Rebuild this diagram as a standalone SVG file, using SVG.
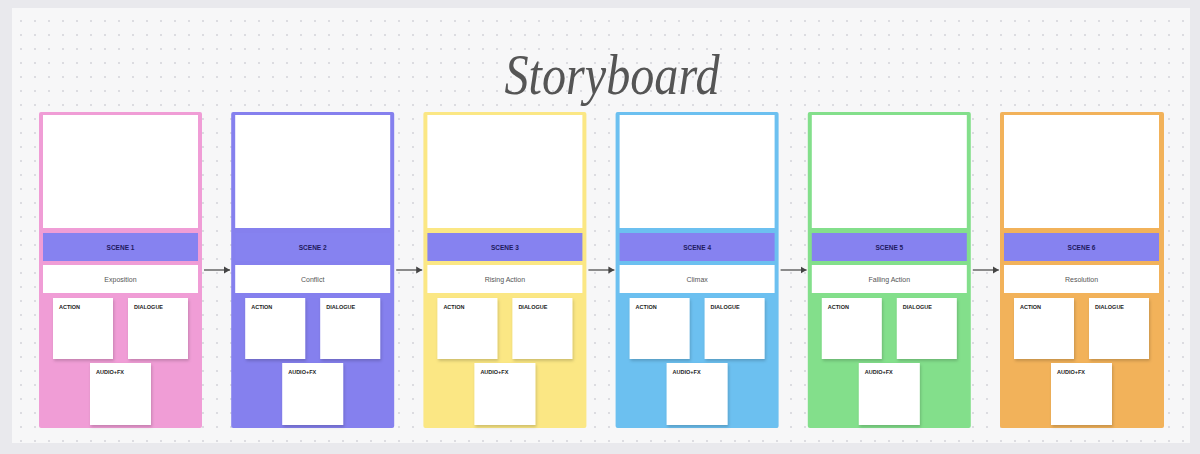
<svg xmlns="http://www.w3.org/2000/svg" width="1200" height="454" viewBox="0 0 1200 454">
<style>
.img{fill:#ffffff}
.bar{fill:#8682f0}
.desc{fill:#ffffff}
.note{fill:#ffffff;filter:url(#sh)}
.st{font-family:"Liberation Sans",Arial,sans-serif;font-size:6.5px;font-weight:bold;fill:#1e1a5e;text-anchor:middle}
.ds{font-family:"Liberation Sans",Arial,sans-serif;font-size:7px;fill:#555;text-anchor:middle}
.nl{font-family:"Liberation Sans",Arial,sans-serif;font-size:5.5px;font-weight:bold;fill:#222}
.conn{stroke:#444;stroke-width:1.2;fill:none;marker-end:url(#ah)}
</style>
<defs>
<pattern id="dots" x="0" y="0" width="14" height="14" patternUnits="userSpaceOnUse">
<circle cx="7" cy="7" r="0.9" fill="#d0d0d5"/>
</pattern>
<filter id="sh" x="-20%" y="-20%" width="150%" height="150%">
<feDropShadow dx="1" dy="2" stdDeviation="1.5" flood-color="#000" flood-opacity="0.18"/>
</filter>
<marker id="ah" markerWidth="8" markerHeight="8" refX="6" refY="4" orient="auto" markerUnits="userSpaceOnUse">
<path d="M0,0.5 L6,4 L0,7.5 Z" fill="#444"/>
</marker>
</defs>
<rect width="1200" height="454" fill="#e9e9ed"/>
<rect x="12" y="8" width="1178" height="435" fill="#f7f7f8"/>
<rect x="12" y="8" width="1178" height="435" fill="url(#dots)"/>
<text x="612" y="94" font-family="'Liberation Serif',serif" font-style="italic" font-size="56" fill="#555" text-anchor="middle" textLength="215" lengthAdjust="spacingAndGlyphs">Storyboard</text>

<g id="scene1" transform="translate(39,0)">
<rect x="0" y="112" width="163" height="316" rx="2" fill="#f09dd6"/>
<rect class="img" x="4" y="115" width="155" height="113"/>
<rect class="bar" x="4" y="233" width="155" height="28"/>
<text class="st" x="81.5" y="249.5">SCENE 1</text>
<rect class="desc" x="4" y="265" width="155" height="28"/>
<text class="ds" x="81.5" y="281.5">Exposition</text>
<rect class="note" x="14" y="298" width="60" height="61"/>
<text class="nl" x="20" y="309">ACTION</text>
<rect class="note" x="89" y="298" width="60" height="61"/>
<text class="nl" x="95" y="309">DIALOGUE</text>
<rect class="note" x="51" y="363" width="61" height="62"/>
<text class="nl" x="57" y="374">AUDIO+FX</text>
</g>

<g id="scene2" transform="translate(231.2,0)">
<rect x="0" y="112" width="163" height="316" rx="2" fill="#8580ee"/>
<rect class="img" x="4" y="115" width="155" height="113"/>
<rect class="bar" x="4" y="233" width="155" height="28"/>
<text class="st" x="81.5" y="249.5">SCENE 2</text>
<rect class="desc" x="4" y="265" width="155" height="28"/>
<text class="ds" x="81.5" y="281.5">Conflict</text>
<rect class="note" x="14" y="298" width="60" height="61"/>
<text class="nl" x="20" y="309">ACTION</text>
<rect class="note" x="89" y="298" width="60" height="61"/>
<text class="nl" x="95" y="309">DIALOGUE</text>
<rect class="note" x="51" y="363" width="61" height="62"/>
<text class="nl" x="57" y="374">AUDIO+FX</text>
</g>

<g id="scene3" transform="translate(423.4,0)">
<rect x="0" y="112" width="163" height="316" rx="2" fill="#fbe784"/>
<rect class="img" x="4" y="115" width="155" height="113"/>
<rect class="bar" x="4" y="233" width="155" height="28"/>
<text class="st" x="81.5" y="249.5">SCENE 3</text>
<rect class="desc" x="4" y="265" width="155" height="28"/>
<text class="ds" x="81.5" y="281.5">Rising Action</text>
<rect class="note" x="14" y="298" width="60" height="61"/>
<text class="nl" x="20" y="309">ACTION</text>
<rect class="note" x="89" y="298" width="60" height="61"/>
<text class="nl" x="95" y="309">DIALOGUE</text>
<rect class="note" x="51" y="363" width="61" height="62"/>
<text class="nl" x="57" y="374">AUDIO+FX</text>
</g>

<g id="scene4" transform="translate(615.6,0)">
<rect x="0" y="112" width="163" height="316" rx="2" fill="#6cc0f0"/>
<rect class="img" x="4" y="115" width="155" height="113"/>
<rect class="bar" x="4" y="233" width="155" height="28"/>
<text class="st" x="81.5" y="249.5">SCENE 4</text>
<rect class="desc" x="4" y="265" width="155" height="28"/>
<text class="ds" x="81.5" y="281.5">Climax</text>
<rect class="note" x="14" y="298" width="60" height="61"/>
<text class="nl" x="20" y="309">ACTION</text>
<rect class="note" x="89" y="298" width="60" height="61"/>
<text class="nl" x="95" y="309">DIALOGUE</text>
<rect class="note" x="51" y="363" width="61" height="62"/>
<text class="nl" x="57" y="374">AUDIO+FX</text>
</g>

<g id="scene5" transform="translate(807.8,0)">
<rect x="0" y="112" width="163" height="316" rx="2" fill="#83df8b"/>
<rect class="img" x="4" y="115" width="155" height="113"/>
<rect class="bar" x="4" y="233" width="155" height="28"/>
<text class="st" x="81.5" y="249.5">SCENE 5</text>
<rect class="desc" x="4" y="265" width="155" height="28"/>
<text class="ds" x="81.5" y="281.5">Falling Action</text>
<rect class="note" x="14" y="298" width="60" height="61"/>
<text class="nl" x="20" y="309">ACTION</text>
<rect class="note" x="89" y="298" width="60" height="61"/>
<text class="nl" x="95" y="309">DIALOGUE</text>
<rect class="note" x="51" y="363" width="61" height="62"/>
<text class="nl" x="57" y="374">AUDIO+FX</text>
</g>

<g id="scene6" transform="translate(1000,0)">
<rect x="0" y="112" width="164" height="316" rx="2" fill="#f2b25a"/>
<rect class="img" x="4" y="115" width="155" height="113"/>
<rect class="bar" x="4" y="233" width="155" height="28"/>
<text class="st" x="81.5" y="249.5">SCENE 6</text>
<rect class="desc" x="4" y="265" width="155" height="28"/>
<text class="ds" x="81.5" y="281.5">Resolution</text>
<rect class="note" x="14" y="298" width="60" height="61"/>
<text class="nl" x="20" y="309">ACTION</text>
<rect class="note" x="89" y="298" width="60" height="61"/>
<text class="nl" x="95" y="309">DIALOGUE</text>
<rect class="note" x="51" y="363" width="61" height="62"/>
<text class="nl" x="57" y="374">AUDIO+FX</text>
</g>

<g id="connectors">
<line class="conn" x1="204" y1="270" x2="230" y2="270"/>
<line class="conn" x1="396.2" y1="270" x2="422.2" y2="270"/>
<line class="conn" x1="588.4" y1="270" x2="614.4" y2="270"/>
<line class="conn" x1="780.6" y1="270" x2="806.6" y2="270"/>
<line class="conn" x1="972.8" y1="270" x2="998.8" y2="270"/>
</g>
</svg>
